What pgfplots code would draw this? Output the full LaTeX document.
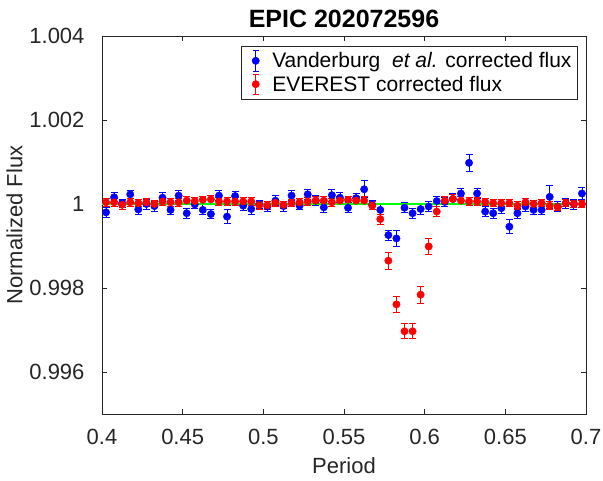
\documentclass[border=0pt]{standalone}
\usepackage{pgfplots}
\pgfplotsset{compat=1.18}
\usepackage{fontspec}
\setmainfont{Liberation Sans}
\definecolor{axgray}{rgb}{0.15,0.15,0.15}
\begin{document}
\begin{tikzpicture}
\begin{axis}[
  scale only axis, width=484pt, height=378pt,
  xmin=0.4, xmax=0.7, ymin=0.995, ymax=1.004,
  xtick={0.4,0.45,0.5,0.55,0.6,0.65,0.7},
  ytick={0.996,0.998,1,1.002,1.004},
  scaled y ticks=false, scaled x ticks=false,
  y tick label style={/pgf/number format/.cd, fixed, precision=3, /tikz/.cd, xshift=-14pt},
  x tick label style={/pgf/number format/.cd, fixed, precision=2, /tikz/.cd, yshift=-12pt},
  /pgf/number format/assume math mode=true,
  tick label style={font=\fontsize{22}{26}\selectfont, text=axgray},
  label style={font=\fontsize{22}{26}\selectfont, text=axgray},
  xlabel style={yshift=-6pt},
  title style={font=\bfseries\fontsize{25}{29}\selectfont, yshift=-1pt},
  title={EPIC 202072596},
  xlabel={Period}, ylabel={Normalized Flux},
  axis line style={axgray, line width=0.6pt},
  tick style={axgray, line width=0.6pt},
  tick align=inside, major tick length=5pt,
  legend style={at={(0.983,0.974)}, anchor=north east, draw=axgray, line width=0.6pt,
    font=\fontsize{21}{24}\selectfont, cells={anchor=west}, row sep=2pt,
    inner xsep=4pt, inner ysep=4pt},
]
\addplot[only marks, mark=*, mark size=3.7pt, color=blue, mark options={fill=blue, draw=blue},
  error bars/.cd, y dir=both, y explicit,
  error bar style={line width=0.9pt, draw=blue},
  error mark options={rotate=90, mark size=3.5pt, line width=0.9pt, draw=blue},
  /pgfplots/legend image code/.code={
    \path (0,0) (0.85cm,0);
    \draw[draw=blue, line width=0.9pt] (0.35cm,-0.36cm) -- (0.35cm,0.36cm);
    \draw[draw=blue, line width=0.9pt] (0.25cm,-0.36cm) -- (0.45cm,-0.36cm) (0.25cm,0.36cm) -- (0.45cm,0.36cm);
    \fill[blue] (0.35cm,0cm) circle (3.6pt);
  }]
coordinates {
(0.4025,0.99980) +- (0,0.00012)
(0.4075,1.00016) +- (0,0.00011)
(0.4125,1.00002) +- (0,0.00010)
(0.4175,1.00023) +- (0,0.00010)
(0.4225,0.99987) +- (0,0.00012)
(0.4275,1.00000) +- (0,0.00012)
(0.4325,0.99995) +- (0,0.00012)
(0.4375,1.00015) +- (0,0.00012)
(0.4425,0.99986) +- (0,0.00012)
(0.4475,1.00020) +- (0,0.00012)
(0.4525,0.99978) +- (0,0.00012)
(0.4575,0.99999) +- (0,0.00010)
(0.4625,0.99986) +- (0,0.00012)
(0.4675,0.99976) +- (0,0.00010)
(0.4725,1.00020) +- (0,0.00012)
(0.4775,0.99970) +- (0,0.00016)
(0.4825,1.00019) +- (0,0.00012)
(0.4875,0.99996) +- (0,0.00012)
(0.4925,0.99988) +- (0,0.00012)
(0.4975,0.99999) +- (0,0.00010)
(0.5025,0.99994) +- (0,0.00012)
(0.5075,1.00008) +- (0,0.00012)
(0.5125,0.99995) +- (0,0.00012)
(0.5175,1.00020) +- (0,0.00012)
(0.5225,0.99996) +- (0,0.00010)
(0.5275,1.00023) +- (0,0.00012)
(0.5325,1.00008) +- (0,0.00012)
(0.5375,0.99992) +- (0,0.00012)
(0.5425,1.00021) +- (0,0.00014)
(0.5475,1.00015) +- (0,0.00012)
(0.5525,0.99991) +- (0,0.00012)
(0.5575,1.00014) +- (0,0.00012)
(0.5625,1.00035) +- (0,0.00020)
(0.5675,0.99998) +- (0,0.00010)
(0.5725,0.99986) +- (0,0.00012)
(0.5775,0.99926) +- (0,0.00012)
(0.5825,0.99918) +- (0,0.00018)
(0.5875,0.99991) +- (0,0.00012)
(0.5925,0.99978) +- (0,0.00012)
(0.5975,0.99988) +- (0,0.00012)
(0.6025,0.99994) +- (0,0.00012)
(0.6075,1.00007) +- (0,0.00012)
(0.6125,1.00005) +- (0,0.00010)
(0.6175,1.00012) +- (0,0.00012)
(0.6225,1.00025) +- (0,0.00013)
(0.6275,1.00098) +- (0,0.00020)
(0.6325,1.00025) +- (0,0.00012)
(0.6375,0.99982) +- (0,0.00012)
(0.6425,0.99978) +- (0,0.00012)
(0.6475,0.99990) +- (0,0.00012)
(0.6525,0.99946) +- (0,0.00017)
(0.6575,0.99978) +- (0,0.00012)
(0.6625,0.99994) +- (0,0.00012)
(0.6675,0.99986) +- (0,0.00012)
(0.6725,0.99986) +- (0,0.00012)
(0.6775,1.00017) +- (0,0.00028)
(0.6825,0.99994) +- (0,0.00012)
(0.6875,1.00002) +- (0,0.00012)
(0.6925,1.00000) +- (0,0.00012)
(0.6975,1.00025) +- (0,0.00014)
};
\addlegendentry{Vanderburg\ \ \textit{et al.} corrected flux}
\addplot[only marks, mark=*, mark size=3.7pt, color=red, mark options={fill=red, draw=red},
  error bars/.cd, y dir=both, y explicit,
  error bar style={line width=0.9pt, draw=red},
  error mark options={rotate=90, mark size=3.5pt, line width=0.9pt, draw=red},
  /pgfplots/legend image code/.code={
    \path (0,0) (0.85cm,0);
    \draw[draw=red, line width=0.9pt] (0.35cm,-0.36cm) -- (0.35cm,0.36cm);
    \draw[draw=red, line width=0.9pt] (0.25cm,-0.36cm) -- (0.45cm,-0.36cm) (0.25cm,0.36cm) -- (0.45cm,0.36cm);
    \fill[red] (0.35cm,0cm) circle (3.6pt);
  }]
coordinates {
(0.4025,1.00004) +- (0,0.00009)
(0.4075,1.00004) +- (0,0.00009)
(0.4125,0.99998) +- (0,0.00010)
(0.4175,1.00004) +- (0,0.00009)
(0.4225,1.00002) +- (0,0.00009)
(0.4275,1.00004) +- (0,0.00009)
(0.4325,1.00000) +- (0,0.00009)
(0.4375,1.00006) +- (0,0.00009)
(0.4425,1.00004) +- (0,0.00009)
(0.4475,1.00004) +- (0,0.00009)
(0.4525,1.00008) +- (0,0.00009)
(0.4575,1.00007) +- (0,0.00009)
(0.4625,1.00010) +- (0,0.00009)
(0.4675,1.00011) +- (0,0.00009)
(0.4725,1.00006) +- (0,0.00009)
(0.4775,1.00006) +- (0,0.00009)
(0.4825,1.00006) +- (0,0.00009)
(0.4875,1.00006) +- (0,0.00009)
(0.4925,1.00006) +- (0,0.00009)
(0.4975,0.99997) +- (0,0.00009)
(0.5025,0.99997) +- (0,0.00009)
(0.5075,1.00003) +- (0,0.00009)
(0.5125,0.99998) +- (0,0.00009)
(0.5175,1.00002) +- (0,0.00009)
(0.5225,1.00004) +- (0,0.00009)
(0.5275,1.00006) +- (0,0.00009)
(0.5325,1.00008) +- (0,0.00009)
(0.5375,1.00008) +- (0,0.00009)
(0.5425,1.00004) +- (0,0.00009)
(0.5475,1.00008) +- (0,0.00009)
(0.5525,1.00010) +- (0,0.00009)
(0.5575,1.00008) +- (0,0.00009)
(0.5625,1.00008) +- (0,0.00010)
(0.5675,0.99996) +- (0,0.00010)
(0.5725,0.99964) +- (0,0.00012)
(0.5775,0.99865) +- (0,0.00020)
(0.5825,0.99761) +- (0,0.00020)
(0.5875,0.99697) +- (0,0.00018)
(0.5925,0.99697) +- (0,0.00018)
(0.5975,0.99784) +- (0,0.00020)
(0.6025,0.99899) +- (0,0.00018)
(0.6075,0.99982) +- (0,0.00012)
(0.6125,1.00008) +- (0,0.00010)
(0.6175,1.00012) +- (0,0.00010)
(0.6225,1.00008) +- (0,0.00009)
(0.6275,1.00006) +- (0,0.00009)
(0.6325,1.00006) +- (0,0.00009)
(0.6375,1.00005) +- (0,0.00009)
(0.6425,1.00002) +- (0,0.00009)
(0.6475,1.00002) +- (0,0.00009)
(0.6525,1.00002) +- (0,0.00009)
(0.6575,0.99996) +- (0,0.00009)
(0.6625,1.00004) +- (0,0.00009)
(0.6675,1.00000) +- (0,0.00009)
(0.6725,1.00002) +- (0,0.00009)
(0.6775,0.99996) +- (0,0.00009)
(0.6825,0.99993) +- (0,0.00009)
(0.6875,1.00002) +- (0,0.00009)
(0.6925,1.00000) +- (0,0.00009)
(0.6975,1.00000) +- (0,0.00009)
};
\addlegendentry{EVEREST corrected flux}
\addplot[forget plot, green, line width=2.4pt] coordinates {(0.4,1) (0.7,1)};
\end{axis}
\pgfresetboundingbox
\path[use as bounding box] (current axis.south west) ++(-102pt,-67pt) rectangle ++(603pt,481pt);
\end{tikzpicture}
\end{document}
